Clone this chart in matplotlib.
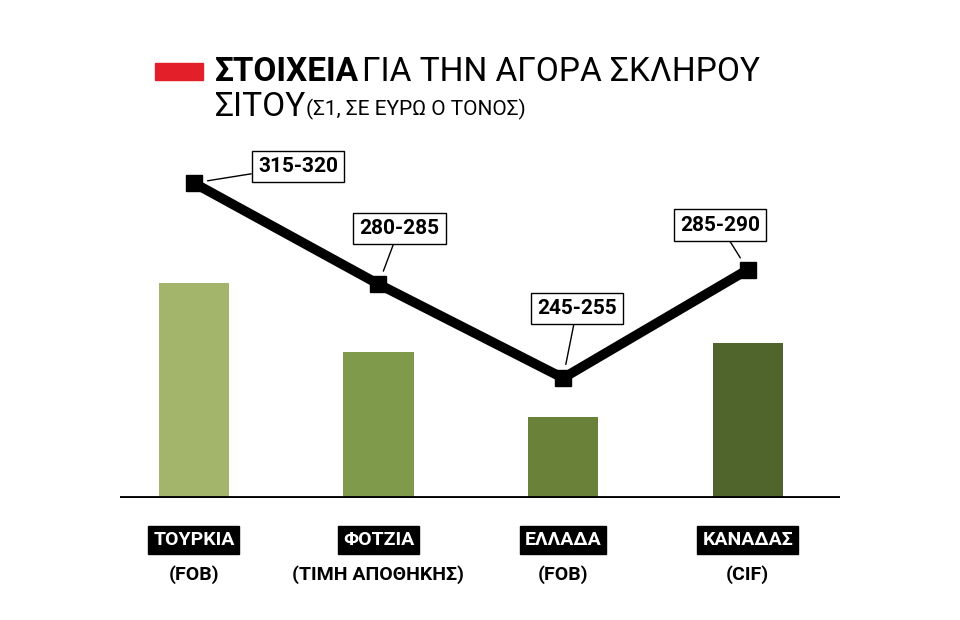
import numpy as np
import matplotlib.pyplot as plt

countries = ['ΤΟΥΡΚΙΑ', 'ΦΟΤΖΙΑ', 'ΕΛΛΑΔΑ', 'ΚΑΝΑΔΑΣ']
terms = ['(FOB)', '(ΤΙΜΗ ΑΠΟΘΗΚΗΣ)', '(FOB)', '(CIF)']
price_low = [315, 280, 245, 285]
price_high = [320, 285, 255, 290]
labels = ['315-320', '280-285', '245-255', '285-290']
bar_colors = ['#a3b56b', '#7f9a4a', '#6a8139', '#4f652c']

mid = [(a + b) / 2 for a, b in zip(price_low, price_high)]
x = np.array([0, 1, 2, 3])

fig = plt.figure(figsize=(9.6, 6.2), dpi=100)
W, H = 960, 620
def px(l, t, r, b):
    return [l / W, 1 - b / H, (r - l) / W, (b - t) / H]

ax = fig.add_axes(px(120, 140, 840, 498))
ax.bar(x, mid, width=0.38, bottom=0, color=bar_colors)
ax.set_xlim(-0.4, 3.5)
ax.set_ylim(209.2, 209.2 + 358 / 1.985)
ax.axis('off')
ax.axhline(209.2, color='black', lw=3.5, xmin=0, xmax=1)

ax2 = ax.twinx()
ax2.set_ylim(208.5, 208.5 + 358 / 2.89)
ax2.set_xlim(-0.4, 3.5)
ax2.plot(x, mid, color='black', lw=7, marker='s', ms=12, solid_joinstyle='miter')
ax2.axis('off')

# callout offsets (x, y in points relative to data point)
offsets = [(75, 12), (15, 40), (10, 50), (-20, 32)]
for xi, v, lab, off in zip(x, mid, labels, offsets):
    ax2.annotate(lab, (xi, v), xytext=off, textcoords='offset points',
                 ha='center', va='center', fontsize=15, fontweight='bold',
                 family='Roboto', color='black',
                 bbox=dict(boxstyle='square,pad=0.3', fc='white', ec='black', lw=1),
                 arrowprops=dict(arrowstyle='-', color='black', lw=1,
                                 shrinkA=0, shrinkB=10))

# x labels
for xi, c, t in zip(x, countries, terms):
    ax.annotate(c, (xi, 0), xycoords=('data', 'axes fraction'), xytext=(0, -30),
                textcoords='offset points', ha='center', va='center',
                fontsize=14, fontweight='bold', color='white', family='Roboto',
                bbox=dict(boxstyle='square,pad=0.25', fc='black', ec='black'))
    ax.annotate(t, (xi, 0), xycoords=('data', 'axes fraction'), xytext=(0, -55),
                textcoords='offset points', ha='center', va='center',
                fontsize=14, fontweight='bold', color='black', family='Roboto')

# title
fig.patches.append(plt.Rectangle((155 / W, 1 - 80 / H), 48 / W, 17 / H,
                                 transform=fig.transFigure, color='#e3202a'))
t1 = fig.text(215 / W, 1 - 72 / H, 'ΣΤΟΙΧΕΙΑ', fontsize=24, fontweight='bold',
              family='Roboto', va='center')
fig.text(362 / W, 1 - 72 / H, 'ΓΙΑ ΤΗΝ ΑΓΟΡΑ ΣΚΛΗΡΟΥ', fontsize=24,
         family='Roboto', va='center')
fig.text(215 / W, 1 - 107 / H, 'ΣΙΤΟΥ', fontsize=24, family='Roboto', va='center')
fig.text(306 / W, 1 - 109 / H, '(Σ1, ΣΕ ΕΥΡΩ Ο ΤΟΝΟΣ)', fontsize=15,
         family='Roboto', va='center')

fig.savefig('out.png', dpi=100)
